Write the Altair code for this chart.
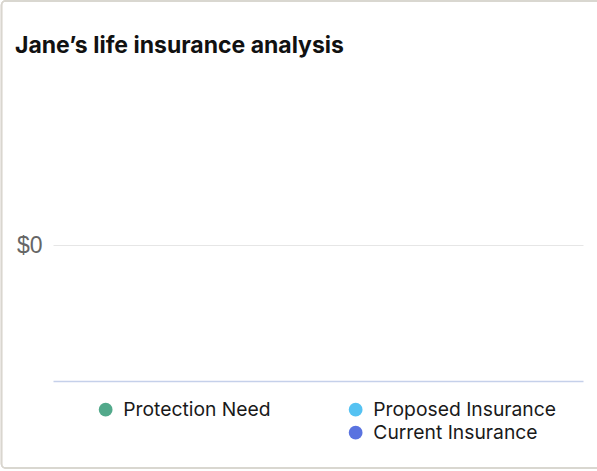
import altair as alt
import pandas as pd

# data
series = ["Protection Need", "Proposed Insurance", "Current Insurance"]
values = [0, 0, 0]
legend_order = ["Protection Need", " ", "Proposed Insurance", "Current Insurance"]
legend_colors = ["#52a98b", "transparent", "#55c2f2", "#5a73e0"]
y_ticks = [0]

df = pd.DataFrame({"series": series, "value": values})

FONT = "Inter"

bars = alt.Chart(df).mark_bar(size=30).encode(
    x=alt.X("series:N", sort=series,
            axis=alt.Axis(title=None, labels=False, ticks=False, grid=False,
                          domainColor="#c5d0ea", domainWidth=1.5)),
    y=alt.Y("value:Q", scale=alt.Scale(domain=[-1, 1], nice=False),
            axis=alt.Axis(title=None, values=y_ticks, format="$,.0f",
                          domain=False, ticks=False, grid=True,
                          gridColor="#e6e6e6", gridWidth=1,
                          labelFont="Liberation Sans", labelFontSize=23,
                          labelColor="#666666", labelPadding=11)),
    color=alt.Color("series:N",
                    scale=alt.Scale(domain=legend_order, range=legend_colors),
                    legend=alt.Legend(title=None, orient="none", legendX=43, legendY=291,
                                      columns=2, columnPadding=75, rowPadding=3,
                                      symbolType="circle", symbolSize=190,
                                      symbolStrokeWidth=0, labelFont=FONT,
                                      labelFontSize=19.3, labelColor="#1a1a1a",
                                      labelOffset=8, labelLimit=400)),
)

frame = alt.Chart(df).mark_rect(
    fill="transparent", stroke="#d9d6cf", strokeWidth=1.5, cornerRadius=4, clip=False
).encode(
    x=alt.value(-51.5), x2=alt.value(560), y=alt.value(-108), y2=alt.value(359)
)

chart = alt.layer(frame, bars).properties(
    width=530, height=272,
    background="white",
    autosize=alt.AutoSizeParams(type="none"),
    padding={"left": 53, "top": 109, "right": 14, "bottom": 90},
    title=alt.TitleParams(
        "Jane’s life insurance analysis", anchor="start", frame="group",
        font=FONT, fontSize=23, fontWeight="bold", color="#111111",
        baseline="alphabetic", dx=-38, dy=76, offset=0,
    ),
).configure_view(stroke=None, strokeWidth=0)

chart.save("out.html", embed_options={"renderer": "svg", "actions": False})
